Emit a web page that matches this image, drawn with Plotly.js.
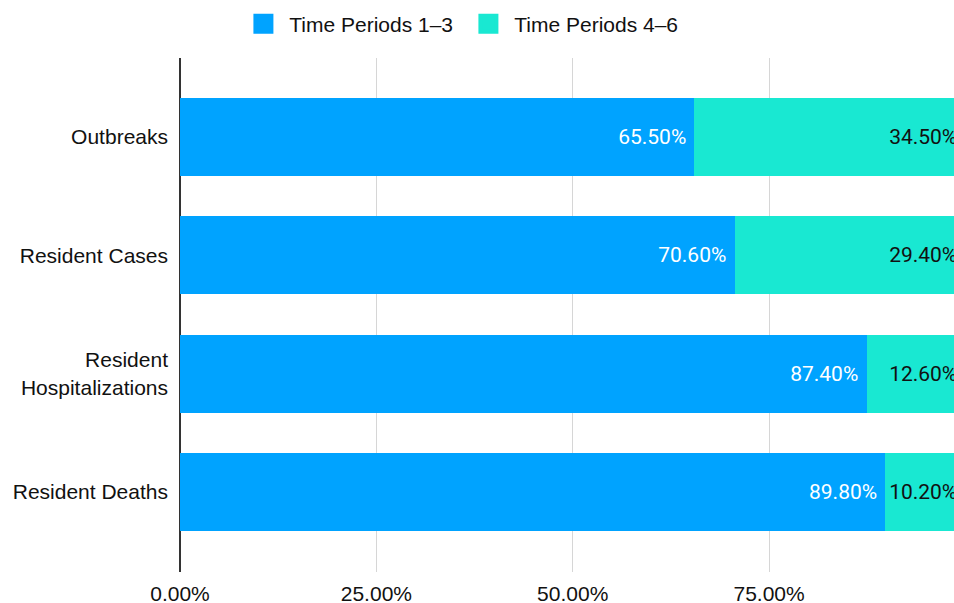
<!DOCTYPE html>
<html>
<head>
<meta charset="utf-8">
<script src="https://cdn.plot.ly/plotly-3.0.1.min.js"></script>
<style>
html,body{margin:0;padding:0;background:#fff;overflow:hidden;}
#chart{width:954px;height:603px;}
</style>
</head>
<body>
<div id="chart"></div>
<script>
var categories = ["Outbreaks", "Resident Cases", "Resident<br>Hospitalizations", "Resident Deaths"];
var periods13 = [65.5, 70.6, 87.4, 89.8];
var periods46 = [34.5, 29.4, 12.6, 10.2];
var seriesNames = ["Time Periods 1\u20133", "Time Periods 4\u20136"];
var tickVals = [0, 25, 50, 75];
var tickLabels = ["0.00%", "25.00%", "50.00%", "75.00%"];
var colors = ["#00A3FF", "#19E8D2"];

var labelFont = {family: "Roboto, sans-serif", size: 21};

var traces = [
  {
    type: "bar", orientation: "h", y: categories, x: periods13,
    marker: {color: colors[0]}, showlegend: false,
    texttemplate: "%{x:.2f}%\u00A0", textposition: "inside", insidetextanchor: "end",
    constraintext: "none",
    insidetextfont: Object.assign({color: "#ffffff"}, labelFont),
    hoverinfo: "skip"
  },
  {
    type: "bar", orientation: "h", y: categories, x: periods46,
    marker: {color: colors[1]}, showlegend: false,
    texttemplate: "%{x:.2f}%\u00A0", textposition: "inside", insidetextanchor: "end",
    constraintext: "none",
    insidetextfont: Object.assign({color: "#111111"}, labelFont),
    hoverinfo: "skip"
  },
  {
    type: "scatter", mode: "markers", x: [null], y: [null], name: "\u00A0" + seriesNames[0],
    marker: {symbol: "square", size: 16, color: colors[0], line: {color: colors[0], width: 4}},
    hoverinfo: "skip"
  },
  {
    type: "scatter", mode: "markers", x: [null], y: [null], name: "\u00A0" + seriesNames[1],
    marker: {symbol: "square", size: 16, color: colors[1], line: {color: colors[1], width: 4}},
    hoverinfo: "skip"
  }
];

var layout = {
  width: 954, height: 603,
  margin: {l: 180, r: 0, t: 58, b: 31, pad: 0},
  paper_bgcolor: "#ffffff", plot_bgcolor: "#ffffff",
  barmode: "stack", bargap: 0.34,
  hovermode: false,
  font: {family: "Liberation Sans, Arial, Helvetica, sans-serif", size: 21, color: "#111111"},
  showlegend: true,
  legend: {
    orientation: "h", xref: "container", yref: "container",
    x: 0.491, xanchor: "center", y: 0.96, yanchor: "middle",
    font: {size: 21, color: "#111111"}, traceorder: "normal",
    entrywidth: 180, entrywidthmode: "pixels"
  },
  xaxis: {
    range: [0, 98.54], tickmode: "array", tickvals: tickVals, ticktext: tickLabels,
    showgrid: true, gridcolor: "#d6d6d6", gridwidth: 1,
    zeroline: true, zerolinecolor: "#333333", zerolinewidth: 1.5,
    showline: false, ticks: "", ticklabelstandoff: 7, fixedrange: true
  },
  yaxis: {
    type: "category", range: [3.676, -0.668],
    showgrid: false, zeroline: false, showline: false, ticks: "",
    ticklabelstandoff: 11, fixedrange: true
  }
};

Plotly.newPlot("chart", traces, layout, {displayModeBar: false, staticPlot: true});
</script>
</body>
</html>
